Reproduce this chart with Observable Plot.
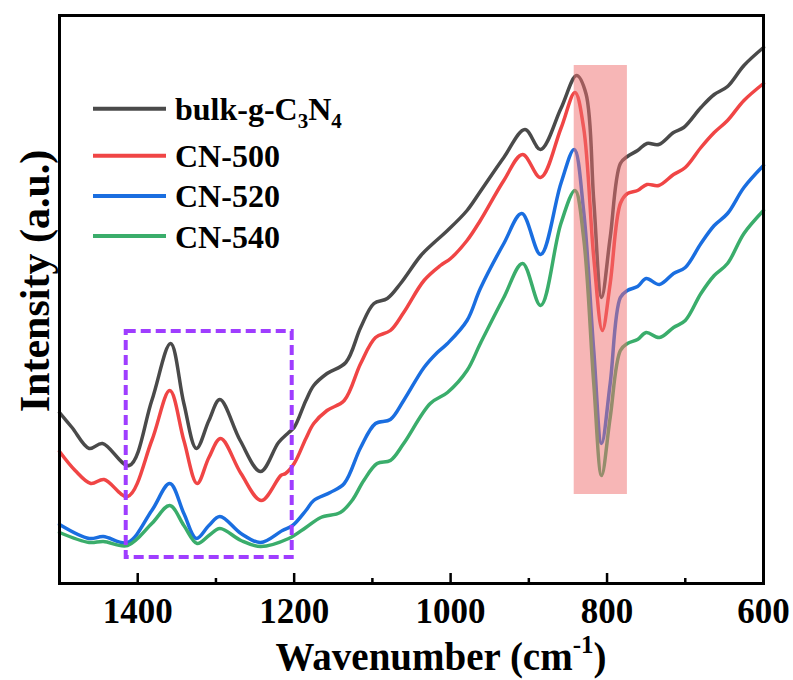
<!DOCTYPE html>
<html><head><meta charset="utf-8">
<script src="https://cdn.jsdelivr.net/npm/d3@7"></script>
<script src="https://cdn.jsdelivr.net/npm/@observablehq/plot@0.6"></script>
<style>
body{margin:0;background:#fff}
#chart{position:relative;width:793px;height:680px;overflow:hidden}
</style>
</head><body><div id="chart"></div>
<script>
// ---- data (intensity in arbitrary units) ----
const seriesNames = ["bulk-g-C3N4", "CN-500", "CN-520", "CN-540"];
const seriesColors = ["#4a4a4a", "#f04545", "#1a6ee0", "#3aad6b"];

const bulkWave = [1500,1484,1462,1445,1411,1382,1358,1341,1325,1309,1295,1269,1243,1220,1207,1200,1185,1175,1158,1134,1115,1098,1081,1064,1038,1021,1004,979,962,932,905,885,859,839,827,817,807,796,783,774,761,749,734,715,702,680,663,646,625,600];
const bulkVal  = [171,156,135,140,118,183,240,180,135,163,184,143,112,141,151,156,183,198,210,221,256,280,285,300,328,341,353,373,392,426,454,434,475,508,490,383,286,346,420,427,433,440,439,451,456,476,489,497,518,536];

const cn500Wave = [1500,1480,1460,1443,1413,1382,1359,1341,1324,1309,1294,1268,1242,1217,1211,1200,1185,1175,1158,1136,1115,1096,1077,1060,1034,1013,1000,979,962,932,908,885,859,841,830,817,806,796,783,774,761,749,734,715,700,680,663,646,625,600];
const cn500Val  = [132,113,100,104,87,143,193,143,100,126,145,110,83,108,110,120,145,160,173,183,220,246,253,271,303,318,325,343,363,403,429,406,455,491,456,326,253,300,380,390,393,399,398,409,416,436,451,463,483,500];

const cn520Wave = [1500,1462,1444,1413,1382,1359,1341,1325,1309,1295,1268,1243,1215,1202,1185,1175,1154,1136,1115,1096,1077,1060,1034,1017,1004,979,962,932,909,885,859,842,830,817,807,796,783,774,761,750,733,715,700,680,663,646,625,600];
const cn520Val  = [59,45,47,41,73,100,70,45,58,67,50,41,53,58,73,83,91,100,136,160,164,183,216,231,240,263,295,340,370,329,400,434,373,233,140,200,286,293,297,305,299,310,316,340,358,370,396,418];

const cn540Wave = [1500,1462,1444,1413,1382,1359,1341,1324,1309,1295,1268,1243,1207,1185,1166,1141,1126,1111,1094,1077,1060,1026,1004,979,962,932,908,885,859,841,830,817,807,796,783,774,761,750,733,715,700,680,663,646,625,600];
const cn540Val  = [51,41,42,38,60,78,58,40,48,55,43,37,45,56,66,71,83,103,120,123,140,180,191,213,240,286,320,278,360,393,346,200,108,166,233,240,244,251,246,256,263,290,308,320,350,373];

const majorTicks = [1400, 1200, 1000, 800, 600];
const minorTicks = [1300, 1100, 900, 700];

// highlighted regions
const bandWave = [842, 774];      // pink band (wavenumber)
const bandVal = [89, 518];
const boxWave = [1414.7, 1202.5];  // dashed box (wavenumber)
const boxVal = [26, 252];

const waves = [bulkWave, cn500Wave, cn520Wave, cn540Wave];
const vals = [bulkVal, cn500Val, cn520Val, cn540Val];
const rows = [];
seriesNames.forEach((name, i) => {
  waves[i].forEach((w, j) => rows.push({series: name, wave: w, value: vals[i][j]}));
});

const font = "Liberation Serif, Tinos, Times New Roman, DejaVu Serif, serif";

const plot = Plot.plot({
  width: 793,
  height: 680,
  marginLeft: 59,
  marginRight: 30,
  marginTop: 15,
  marginBottom: 97,
  style: {fontFamily: font, background: "#fff"},
  x: {domain: [1500, 600], axis: null},
  y: {domain: [0, 568], axis: null},
  color: {domain: seriesNames, range: seriesColors},
  marks: [
    Plot.line(rows, {x: "wave", y: "value", z: "series", stroke: "series", strokeWidth: 3.5, curve: "catmull-rom"}),
    Plot.rect([{x1: bandWave[0], x2: bandWave[1], y1: bandVal[0], y2: bandVal[1]}],
      {x1: "x1", x2: "x2", y1: "y1", y2: "y2", fill: "#f06e6e", fillOpacity: 0.5}),
    Plot.rect([{x1: boxWave[0], x2: boxWave[1], y1: boxVal[0], y2: boxVal[1]}],
      {x1: "x1", x2: "x2", y1: "y1", y2: "y2", fill: "none", stroke: "#9f3dff", strokeWidth: 4, strokeDasharray: "10,5"}),
    Plot.ruleX(majorTicks, {x: d => d, y1: 0, y2: 10, stroke: "black", strokeWidth: 2.5}),
    Plot.ruleX(minorTicks, {x: d => d, y1: 0, y2: 5, stroke: "black", strokeWidth: 2.5}),
    Plot.axisX(majorTicks, {tickSize: 0, tickPadding: 15, fontSize: 35, fontWeight: "bold", fill: "black", label: null, tickFormat: d => String(d), fontFamily: font}),
    Plot.frame({stroke: "black", strokeWidth: 3})
  ]
});
document.getElementById("chart").appendChild(plot);

// ---- legend and axis titles ----
const svg = d3.select(plot);
const legendY = [108.7, 155.7, 196, 236];
const legendBase = [120, 167, 207, 248];
seriesNames.forEach((name, i) => {
  svg.append("line").attr("x1", 93).attr("x2", 166).attr("y1", legendY[i]).attr("y2", legendY[i])
    .attr("stroke", seriesColors[i]).attr("stroke-width", 4);
  const t = svg.append("text").attr("x", 175).attr("y", legendBase[i]).attr("text-anchor", "start")
    .style("font-family", font).attr("font-weight", "bold").attr("font-size", 32).attr("fill", "black");
  if (i === 0) {
    t.append("tspan").text("bulk-g-C");
    t.append("tspan").attr("font-size", 21).attr("dy", 8).text("3");
    t.append("tspan").attr("dy", -8).text("N");
    t.append("tspan").attr("font-size", 21).attr("dy", 8).text("4");
  } else {
    t.text(name);
  }
});

const xl = svg.append("text").attr("x", 441).attr("y", 670).attr("text-anchor", "middle")
  .style("font-family", font).attr("font-weight", "bold").attr("font-size", 39).attr("fill", "black");
xl.append("tspan").text("Wavenumber (cm");
xl.append("tspan").attr("font-size", 25).attr("dy", -17).text("-1");
xl.append("tspan").attr("dy", 17).text(")");

svg.append("text").attr("transform", "translate(49,281) rotate(-90)").attr("text-anchor", "middle")
  .style("font-family", font).attr("font-weight", "bold").attr("font-size", 42).attr("fill", "black")
  .text("Intensity (a.u.)");
</script>
</body></html>
